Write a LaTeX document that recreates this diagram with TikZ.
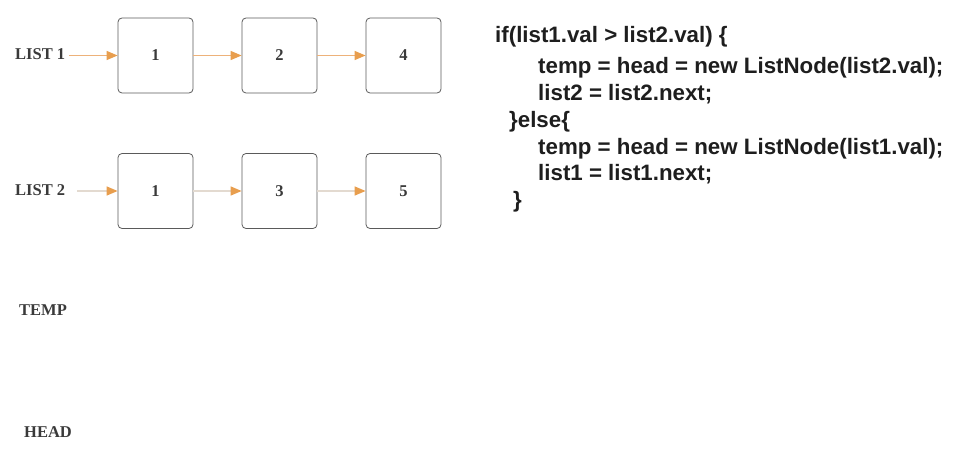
\documentclass[tikz,border=0pt]{standalone}
\usepackage{fontspec}
\setmainfont{Liberation Serif}
\newfontfamily\codefont{Liberation Sans}
\usetikzlibrary{arrows.meta}

\definecolor{boxline}{HTML}{5A5A5A}
\definecolor{labelgray}{HTML}{3A3A3A}
\definecolor{codeink}{HTML}{1E1E1E}
\definecolor{tip}{HTML}{E89E4E}
\definecolor{linkline}{HTML}{EDB27A}
\definecolor{paleline}{HTML}{E3DAD0}

\tikzset{
  cell/.style={draw=boxline, line width=0.8pt, rounded corners=4pt,
    minimum width=75pt, minimum height=75pt, inner sep=0pt,
    font=\fontsize{16.5}{16.5}\selectfont\bfseries, text=labelgray},
  tag/.style={anchor=west, inner sep=0pt,
    font=\fontsize{16.5}{16.5}\selectfont\bfseries, text=labelgray},
  codeline/.style={anchor=base west, inner sep=0pt,
    font=\codefont\fontsize{22.3}{22.3}\selectfont\bfseries, text=codeink},
  link/.style={line width=1.3pt, draw=linkline,
    -{Triangle[length=11pt,width=9pt,color=tip]}},
  palelink/.style={line width=1.3pt, draw=paleline,
    -{Triangle[length=11pt,width=9pt,color=tip]}},
}

\begin{document}
\begin{tikzpicture}[x=1pt,y=-1pt]
  \useasboundingbox (0,0) rectangle (957,468);

  % first list
  \node[tag] (l1) at (15,54) {LIST 1};
  \node[cell] (a1) at (155.5,55.5) {1};
  \node[cell] (a2) at (279.5,55.5) {2};
  \node[cell] (a3) at (403.5,55.5) {4};
  \coordinate (s1) at (69,55.5);
  \draw[link] (s1) -- (a1.west);
  \draw[link] (a1.east) -- (a2.west);
  \draw[link] (a2.east) -- (a3.west);

  % second list
  \node[tag] (l2) at (15,190) {LIST 2};
  \node[cell] (b1) at (155.5,191) {1};
  \node[cell] (b2) at (279.5,191) {3};
  \node[cell] (b3) at (403.5,191) {5};
  \coordinate (s2) at (77,191);
  \draw[palelink] (s2) -- (b1.west);
  \draw[palelink] (b1.east) -- (b2.west);
  \draw[palelink] (b2.east) -- (b3.west);

  % pointers
  \node[tag] (tmp) at (19,310) {TEMP};
  \node[tag] (hd) at (24,432) {HEAD};

  % merge step
  \node[codeline] (c1) at (495,43) {if(list1.val > list2.val) \{};
  \node[codeline] (c2) at (538,74) {temp = head = new ListNode(list2.val);};
  \node[codeline] (c3) at (538,100) {list2 = list2.next;};
  \node[codeline] (c4) at (509,127) {\}else\{};
  \node[codeline] (c5) at (538,154) {temp = head = new ListNode(list1.val);};
  \node[codeline] (c6) at (538,180) {list1 = list1.next;};
  \node[codeline] (c7) at (513,207) {\}};
\end{tikzpicture}
\end{document}
